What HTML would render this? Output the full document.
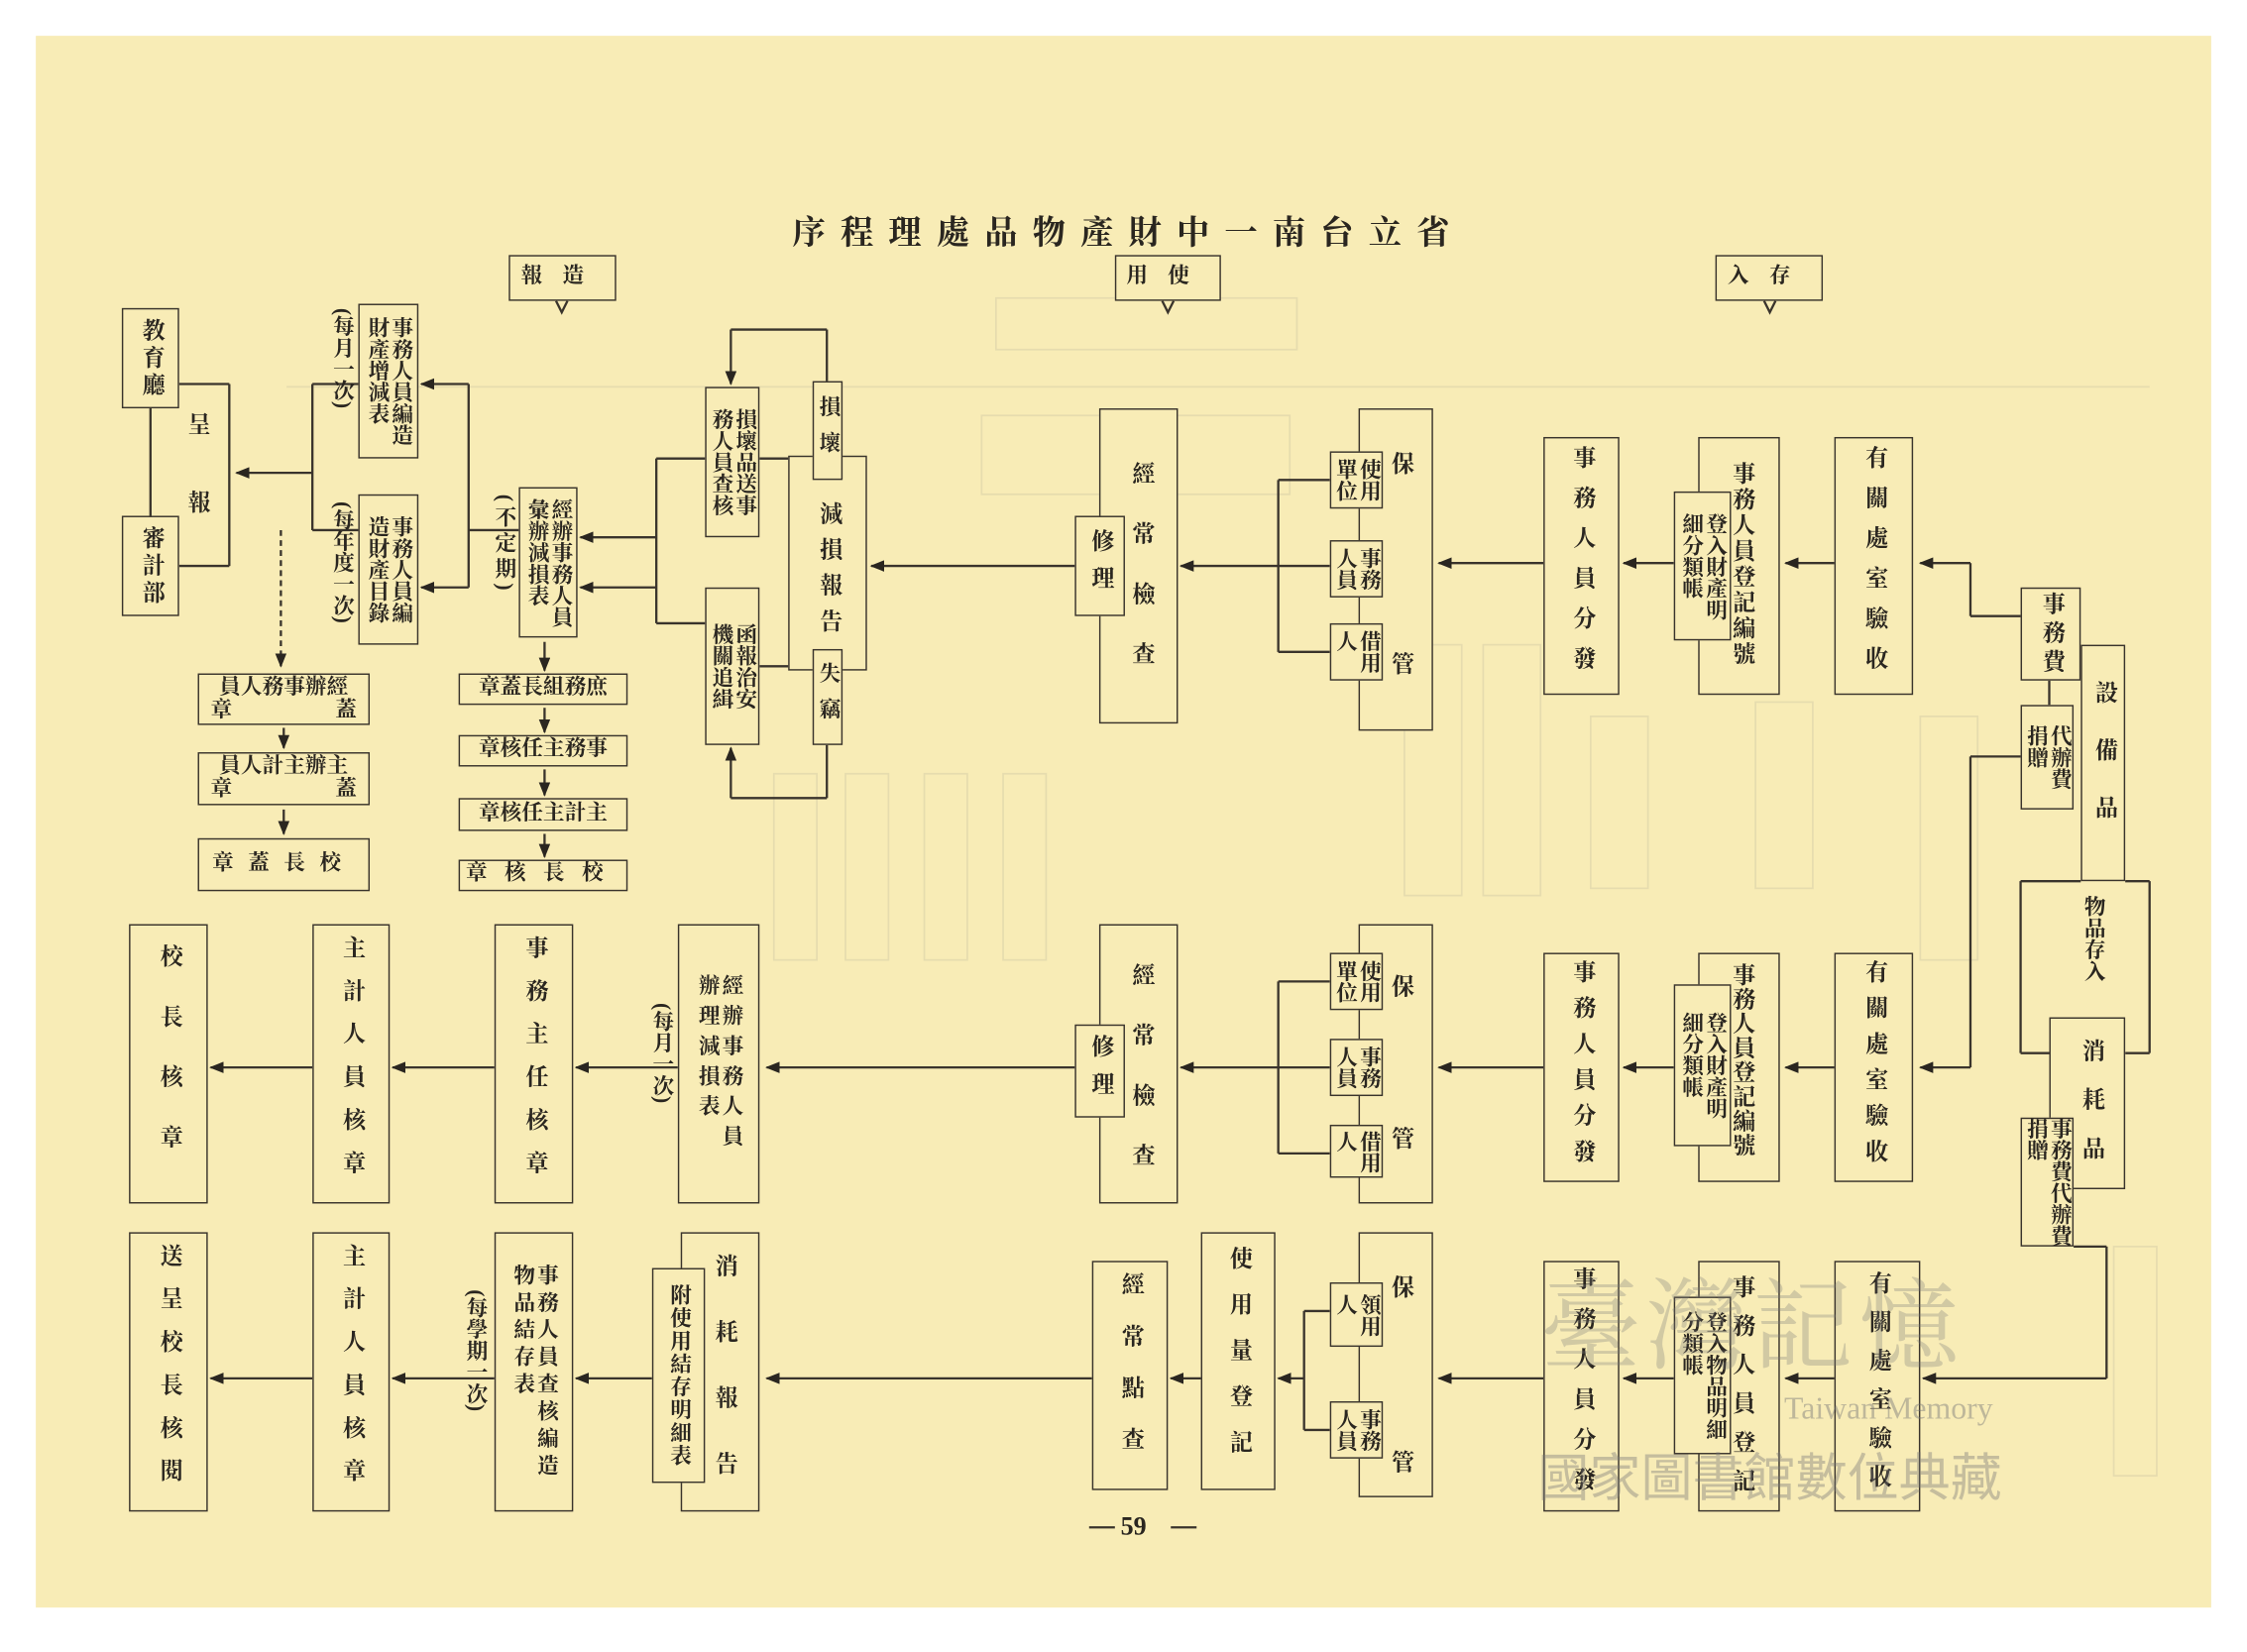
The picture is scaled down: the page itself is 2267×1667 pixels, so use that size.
<!DOCTYPE html>
<html><head><meta charset="utf-8">
<style>
html,body{margin:0;padding:0;background:#fff;}
#wrap{position:relative;width:2267px;height:1667px;overflow:hidden;background:#fff;}
#c{position:absolute;left:0;top:0;width:1568px;height:1153px;transform:scale(1.4458);transform-origin:0 0;font-family:"Liberation Serif","Noto Serif CJK SC","Noto Sans CJK TC",serif;color:#2a2620;}
#paper{position:absolute;left:25px;top:25px;width:1518px;height:1097px;background:#f8ecb6;}
.b{position:absolute;border:1.5px solid #3a342c;writing-mode:vertical-rl;display:flex;align-items:center;justify-content:center;font-size:16px;line-height:1.1;font-weight:bold;box-sizing:border-box;background:#f8ecb6;white-space:nowrap;}
.e{position:absolute;border:1.5px solid #3a342c;box-sizing:border-box;background:#f8ecb6;}
.t{position:absolute;writing-mode:vertical-rl;font-size:16px;font-weight:bold;line-height:1.1;white-space:nowrap;}
.h{position:absolute;border:1.5px solid #3a342c;font-size:15px;font-weight:bold;box-sizing:border-box;text-align:center;background:#f8ecb6;white-space:nowrap;}
svg{position:absolute;left:0;top:0;}
</style></head><body>
<div id="wrap"><div id="c">
<div id="paper"></div>
<svg width="1568" height="1153" viewBox="0 0 1568 1153">
<defs><marker id="a" markerWidth="10" markerHeight="8" refX="9" refY="4" orient="auto" markerUnits="userSpaceOnUse"><path d="M0,0 L10,4 L0,8 z" fill="#2a2620"/></marker></defs>
<!-- faint ghost boxes -->
<g stroke="#e6dcae" stroke-width="1.2" fill="none">
<rect x="695" y="208" width="210" height="36"/><rect x="685" y="290" width="215" height="55"/>
<line x1="200" y1="270" x2="1500" y2="270"/>
<rect x="1110" y="500" width="40" height="120"/><rect x="1225" y="490" width="40" height="130"/><rect x="1340" y="500" width="40" height="170"/>
<rect x="980" y="450" width="40" height="175"/><rect x="1035" y="450" width="40" height="175"/>
<rect x="540" y="540" width="30" height="130"/><rect x="590" y="540" width="30" height="130"/><rect x="645" y="540" width="30" height="130"/><rect x="700" y="540" width="30" height="130"/>
<rect x="1475" y="870" width="30" height="160"/>
</g>
<g stroke="#3a342c" stroke-width="1.6" fill="none">
<!-- row1 -->
<line x1="1410" y1="430" x2="1375" y2="430"/><line x1="1375" y1="430" x2="1375" y2="393"/>
<line x1="1375" y1="393" x2="1340" y2="393" marker-end="url(#a)"/>
<line x1="1280" y1="393" x2="1246" y2="393" marker-end="url(#a)"/>
<line x1="1168" y1="393" x2="1133" y2="393" marker-end="url(#a)"/>
<line x1="1077" y1="393" x2="1004" y2="393" marker-end="url(#a)"/>
<line x1="928" y1="335" x2="892" y2="335"/><line x1="928" y1="395" x2="892" y2="395"/><line x1="928" y1="455" x2="892" y2="455"/>
<line x1="892" y1="335" x2="892" y2="455"/>
<line x1="892" y1="395" x2="824" y2="395" marker-end="url(#a)"/>
<line x1="750" y1="395" x2="608" y2="395" marker-end="url(#a)"/>
<line x1="567" y1="320" x2="530" y2="320"/><line x1="567" y1="465" x2="530" y2="465"/>
<line x1="577" y1="266" x2="577" y2="230"/><line x1="577" y1="230" x2="510" y2="230"/><line x1="510" y1="230" x2="510" y2="268" marker-end="url(#a)"/>
<line x1="577" y1="520" x2="577" y2="557"/><line x1="577" y1="557" x2="510" y2="557"/><line x1="510" y1="557" x2="510" y2="522" marker-end="url(#a)"/>
<line x1="492" y1="320" x2="458" y2="320"/><line x1="492" y1="435" x2="458" y2="435"/>
<line x1="458" y1="320" x2="458" y2="435"/>
<line x1="458" y1="375" x2="405" y2="375" marker-end="url(#a)"/>
<line x1="458" y1="410" x2="405" y2="410" marker-end="url(#a)"/>
<line x1="362" y1="370" x2="327" y2="370"/>
<line x1="327" y1="268" x2="327" y2="410"/>
<line x1="327" y1="268" x2="294" y2="268" marker-end="url(#a)"/>
<line x1="327" y1="410" x2="294" y2="410" marker-end="url(#a)"/>
<line x1="250" y1="268" x2="218" y2="268"/><line x1="250" y1="370" x2="218" y2="370"/>
<line x1="218" y1="268" x2="218" y2="370"/>
<line x1="218" y1="330" x2="165" y2="330" marker-end="url(#a)"/>
<line x1="125" y1="268" x2="160" y2="268"/><line x1="160" y1="268" x2="160" y2="395"/><line x1="160" y1="395" x2="125" y2="395"/>
<line x1="105" y1="285" x2="105" y2="360"/>
<line x1="196" y1="370" x2="196" y2="465" stroke-dasharray="4,3" marker-end="url(#a)"/>
<line x1="198" y1="508" x2="198" y2="522" marker-end="url(#a)"/>
<line x1="198" y1="565" x2="198" y2="582" marker-end="url(#a)"/>
<line x1="380" y1="448" x2="380" y2="468" marker-end="url(#a)"/>
<line x1="380" y1="494" x2="380" y2="511" marker-end="url(#a)"/>
<line x1="380" y1="537" x2="380" y2="555" marker-end="url(#a)"/>
<line x1="380" y1="582" x2="380" y2="598" marker-end="url(#a)"/>
<line x1="1430" y1="475" x2="1430" y2="492"/>
<line x1="1410" y1="528" x2="1375" y2="528"/><line x1="1375" y1="528" x2="1375" y2="745"/>
<line x1="1452" y1="615" x2="1410" y2="615"/><line x1="1410" y1="615" x2="1410" y2="735"/>
<line x1="1483" y1="615" x2="1500" y2="615"/><line x1="1500" y1="615" x2="1500" y2="735"/><line x1="1500" y1="735" x2="1483" y2="735"/>
<line x1="1410" y1="735" x2="1430" y2="735"/>
<!-- row2 -->
<line x1="1375" y1="745" x2="1340" y2="745" marker-end="url(#a)"/>
<line x1="1280" y1="745" x2="1246" y2="745" marker-end="url(#a)"/>
<line x1="1168" y1="745" x2="1133" y2="745" marker-end="url(#a)"/>
<line x1="1077" y1="745" x2="1004" y2="745" marker-end="url(#a)"/>
<line x1="928" y1="685" x2="892" y2="685"/><line x1="928" y1="745" x2="892" y2="745"/><line x1="928" y1="805" x2="892" y2="805"/>
<line x1="892" y1="685" x2="892" y2="805"/>
<line x1="892" y1="745" x2="824" y2="745" marker-end="url(#a)"/>
<line x1="750" y1="745" x2="535" y2="745" marker-end="url(#a)"/>
<line x1="473" y1="745" x2="402" y2="745" marker-end="url(#a)"/>
<line x1="345" y1="745" x2="274" y2="745" marker-end="url(#a)"/>
<line x1="218" y1="745" x2="147" y2="745" marker-end="url(#a)"/>
<!-- row3 -->
<line x1="1447" y1="870" x2="1470" y2="870"/><line x1="1470" y1="870" x2="1470" y2="962"/>
<line x1="1470" y1="962" x2="1342" y2="962" marker-end="url(#a)"/>
<line x1="1280" y1="962" x2="1246" y2="962" marker-end="url(#a)"/>
<line x1="1168" y1="962" x2="1133" y2="962" marker-end="url(#a)"/>
<line x1="1077" y1="962" x2="1004" y2="962" marker-end="url(#a)"/>
<line x1="928" y1="915" x2="910" y2="915"/><line x1="928" y1="998" x2="910" y2="998"/>
<line x1="910" y1="915" x2="910" y2="998"/>
<line x1="910" y1="962" x2="892" y2="962" marker-end="url(#a)"/>
<line x1="838" y1="962" x2="817" y2="962" marker-end="url(#a)"/>
<line x1="762" y1="962" x2="535" y2="962" marker-end="url(#a)"/>
<line x1="455" y1="962" x2="402" y2="962" marker-end="url(#a)"/>
<line x1="345" y1="962" x2="274" y2="962" marker-end="url(#a)"/>
<line x1="218" y1="962" x2="147" y2="962" marker-end="url(#a)"/>
<path d="M388,210 L392,218 L396,210"/><path d="M811,210 L815,218 L819,210"/><path d="M1231,210 L1235,218 L1239,210"/>
<line x1="760" y1="1066" x2="778" y2="1066"/><line x1="817" y1="1066" x2="835" y2="1066"/>
</g>
</svg>

<div style="position:absolute;left:553px;top:144px;width:480px;font-size:23px;font-weight:bold;letter-spacing:10.5px;white-space:nowrap;">序程理處品物產財中一南台立省</div>
<div class="h" style="left:355px;top:178px;width:75px;height:32px;line-height:29px;letter-spacing:14px;">報造</div>
<div class="h" style="left:778px;top:178px;width:74px;height:32px;line-height:29px;letter-spacing:14px;">用使</div>
<div class="h" style="left:1197px;top:178px;width:75px;height:32px;line-height:29px;letter-spacing:14px;">入存</div>

<!-- row1 -->
<div class="b" style="left:1410px;top:410px;width:42px;height:65px;letter-spacing:4px;">事務費</div>
<div class="e" style="left:1452px;top:450px;width:31px;height:165px;"></div>
<div class="t" style="left:1459px;top:475px;letter-spacing:24px;">設備品</div>
<div class="b" style="left:1410px;top:492px;width:37px;height:73px;font-size:15px;">代辦費<br>捐贈</div>
<div class="b" style="left:1280px;top:305px;width:55px;height:180px;letter-spacing:12px;">有關處室驗收</div>
<div class="e" style="left:1185px;top:305px;width:57px;height:180px;"></div>
<div class="t" style="left:1206px;top:322px;font-size:16px;letter-spacing:2px;">事務人員登記編號</div>
<div class="b" style="left:1168px;top:343px;width:40px;height:104px;font-size:15px;">登入財產明<br>細分類帳</div>
<div class="b" style="left:1077px;top:305px;width:53px;height:180px;letter-spacing:12px;">事務人員分發</div>
<div class="e" style="left:948px;top:285px;width:52px;height:225px;"></div>
<div class="t" style="left:968px;top:315px;">保</div>
<div class="t" style="left:968px;top:455px;">管</div>
<div class="b" style="left:928px;top:315px;width:37px;height:40px;font-size:15px;">使用<br>單位</div>
<div class="b" style="left:928px;top:377px;width:37px;height:40px;font-size:15px;">事務<br>人員</div>
<div class="b" style="left:928px;top:435px;width:37px;height:40px;font-size:15px;">借用<br>人</div>
<div class="e" style="left:767px;top:285px;width:55px;height:220px;"></div>
<div class="t" style="left:787px;top:322px;letter-spacing:26px;">經常檢查</div>
<div class="b" style="left:750px;top:360px;width:35px;height:70px;letter-spacing:10px;">修理</div>
<div class="e" style="left:550px;top:318px;width:55px;height:150px;"></div>
<div class="b" style="left:567px;top:266px;width:21px;height:69px;font-size:15px;letter-spacing:10px;">損壞</div>
<div class="b" style="left:567px;top:453px;width:21px;height:67px;font-size:15px;letter-spacing:10px;">失竊</div>
<div class="t" style="left:569px;top:350px;font-size:16px;letter-spacing:9px;background:#f8ecb6;">減損報告</div>
<div class="b" style="left:492px;top:270px;width:38px;height:105px;font-size:15px;">損壞品送事<br>務人員查核</div>
<div class="b" style="left:492px;top:410px;width:38px;height:110px;font-size:15px;">函報治安<br>機關追緝</div>
<div class="b" style="left:362px;top:340px;width:41px;height:105px;font-size:15px;">經辦事務人員<br>彙辦減損表</div>
<div class="t" style="left:343px;top:345px;font-size:15px;letter-spacing:3px;">(不定期)</div>
<div class="b" style="left:250px;top:212px;width:42px;height:108px;font-size:15px;">事務人員編造<br>財產增減表</div>
<div class="t" style="left:230px;top:215px;font-size:15px;">(每月一次)</div>
<div class="b" style="left:250px;top:345px;width:42px;height:105px;font-size:15px;">事務人員編<br>造財產目錄</div>
<div class="t" style="left:230px;top:350px;font-size:15px;">(每年度一次)</div>
<div class="b" style="left:85px;top:215px;width:40px;height:70px;letter-spacing:3px;">教育廳</div>
<div class="b" style="left:85px;top:360px;width:40px;height:70px;letter-spacing:3px;">審計部</div>
<div class="t" style="left:128px;top:288px;letter-spacing:38px;">呈報</div>
<div class="h" style="left:138px;top:470px;width:120px;height:36px;line-height:16px;padding-top:1px;">員人務事辦經<br><span style="display:block;text-align:justify;text-align-last:justify;padding:0 8px;">章 蓋</span></div>
<div class="h" style="left:138px;top:525px;width:120px;height:37px;line-height:16px;padding-top:1px;">員人計主辦主<br><span style="display:block;text-align:justify;text-align-last:justify;padding:0 8px;">章 蓋</span></div>
<div class="h" style="left:138px;top:585px;width:120px;height:37px;line-height:34px;letter-spacing:10px;">章蓋長校</div>
<div class="h" style="left:320px;top:470px;width:118px;height:22px;line-height:19px;">章蓋長組務庶</div>
<div class="h" style="left:320px;top:513px;width:118px;height:22px;line-height:19px;">章核任主務事</div>
<div class="h" style="left:320px;top:557px;width:118px;height:23px;line-height:20px;">章核任主計主</div>
<div class="h" style="left:320px;top:600px;width:118px;height:22px;line-height:19px;letter-spacing:12px;">章核長校</div>

<!-- row2 -->
<div class="t" style="left:1452px;top:625px;font-size:15px;">物品存入</div>
<div class="e" style="left:1430px;top:710px;width:53px;height:120px;"></div>
<div class="t" style="left:1450px;top:725px;letter-spacing:18px;">消耗品</div>
<div class="b" style="left:1410px;top:780px;width:37px;height:90px;font-size:15px;">事務費代辦費<br>捐贈</div>
<div class="b" style="left:1280px;top:665px;width:55px;height:160px;letter-spacing:9px;">有關處室驗收</div>
<div class="e" style="left:1185px;top:665px;width:57px;height:160px;"></div>
<div class="t" style="left:1206px;top:672px;font-size:16px;letter-spacing:1px;">事務人員登記編號</div>
<div class="b" style="left:1168px;top:687px;width:40px;height:113px;font-size:15px;">登入財產明<br>細分類帳</div>
<div class="b" style="left:1077px;top:665px;width:53px;height:160px;letter-spacing:9px;">事務人員分發</div>
<div class="e" style="left:948px;top:645px;width:52px;height:195px;"></div>
<div class="t" style="left:968px;top:680px;">保</div>
<div class="t" style="left:968px;top:786px;">管</div>
<div class="b" style="left:928px;top:665px;width:37px;height:40px;font-size:15px;">使用<br>單位</div>
<div class="b" style="left:928px;top:725px;width:37px;height:40px;font-size:15px;">事務<br>人員</div>
<div class="b" style="left:928px;top:785px;width:37px;height:37px;font-size:15px;">借用<br>人</div>
<div class="e" style="left:767px;top:645px;width:55px;height:195px;"></div>
<div class="t" style="left:787px;top:672px;letter-spacing:26px;">經常檢查</div>
<div class="b" style="left:750px;top:715px;width:35px;height:65px;letter-spacing:10px;">修理</div>
<div class="b" style="left:473px;top:645px;width:57px;height:195px;font-size:15px;letter-spacing:6px;">經辦事務人員<br>辦理減損表</div>
<div class="t" style="left:453px;top:700px;font-size:15px;">(每月一次)</div>
<div class="b" style="left:345px;top:645px;width:55px;height:195px;letter-spacing:14px;">事務主任核章</div>
<div class="b" style="left:218px;top:645px;width:54px;height:195px;letter-spacing:14px;">主計人員核章</div>
<div class="b" style="left:90px;top:645px;width:55px;height:195px;letter-spacing:26px;">校長核章</div>

<!-- row3 -->
<div class="b" style="left:1280px;top:880px;width:60px;height:175px;letter-spacing:11px;">有關處室驗收</div>
<div class="e" style="left:1185px;top:880px;width:57px;height:175px;"></div>
<div class="t" style="left:1206px;top:890px;font-size:16px;letter-spacing:11px;">事務人員登記</div>
<div class="b" style="left:1168px;top:905px;width:40px;height:110px;font-size:15px;">登入物品明細<br>分類帳</div>
<div class="b" style="left:1077px;top:880px;width:53px;height:175px;letter-spacing:12px;">事務人員分發</div>
<div class="e" style="left:948px;top:860px;width:52px;height:185px;"></div>
<div class="t" style="left:968px;top:890px;">保</div>
<div class="t" style="left:968px;top:1012px;">管</div>
<div class="b" style="left:928px;top:895px;width:37px;height:45px;font-size:15px;">領用<br>人</div>
<div class="b" style="left:928px;top:978px;width:37px;height:40px;font-size:15px;">事務<br>人員</div>
<div class="b" style="left:838px;top:860px;width:52px;height:180px;letter-spacing:16px;">使用量登記</div>
<div class="b" style="left:762px;top:880px;width:53px;height:160px;letter-spacing:20px;">經常點查</div>
<div class="e" style="left:475px;top:860px;width:55px;height:195px;"></div>
<div class="t" style="left:496px;top:875px;letter-spacing:30px;">消耗報告</div>
<div class="b" style="left:455px;top:885px;width:37px;height:150px;font-size:15px;letter-spacing:1px;">附使用結存明細表</div>
<div class="b" style="left:345px;top:860px;width:55px;height:195px;font-size:15px;letter-spacing:4px;">事務人員查核編造<br>物品結存表</div>
<div class="t" style="left:323px;top:900px;font-size:15px;">(每學期一次)</div>
<div class="b" style="left:218px;top:860px;width:54px;height:195px;letter-spacing:14px;">主計人員核章</div>
<div class="b" style="left:90px;top:860px;width:55px;height:195px;letter-spacing:14px;">送呈校長核閱</div>

<div style="position:absolute;left:782px;top:1055px;font-size:18px;font-weight:bold;">59</div>
<div style="position:absolute;left:1075px;top:870px;font-size:70px;color:rgba(120,120,120,0.3);font-family:'Noto Serif CJK SC',serif;letter-spacing:4px;">臺灣記憶</div>
<div style="position:absolute;left:1245px;top:970px;font-size:22px;color:rgba(120,120,120,0.45);font-family:'Liberation Serif',serif;">Taiwan Memory</div>
<div style="position:absolute;left:1073px;top:1003px;font-size:36px;color:rgba(120,120,120,0.4);font-family:'Noto Sans CJK TC',sans-serif;">國家圖書館數位典藏</div>
</div></div>
</body></html>
